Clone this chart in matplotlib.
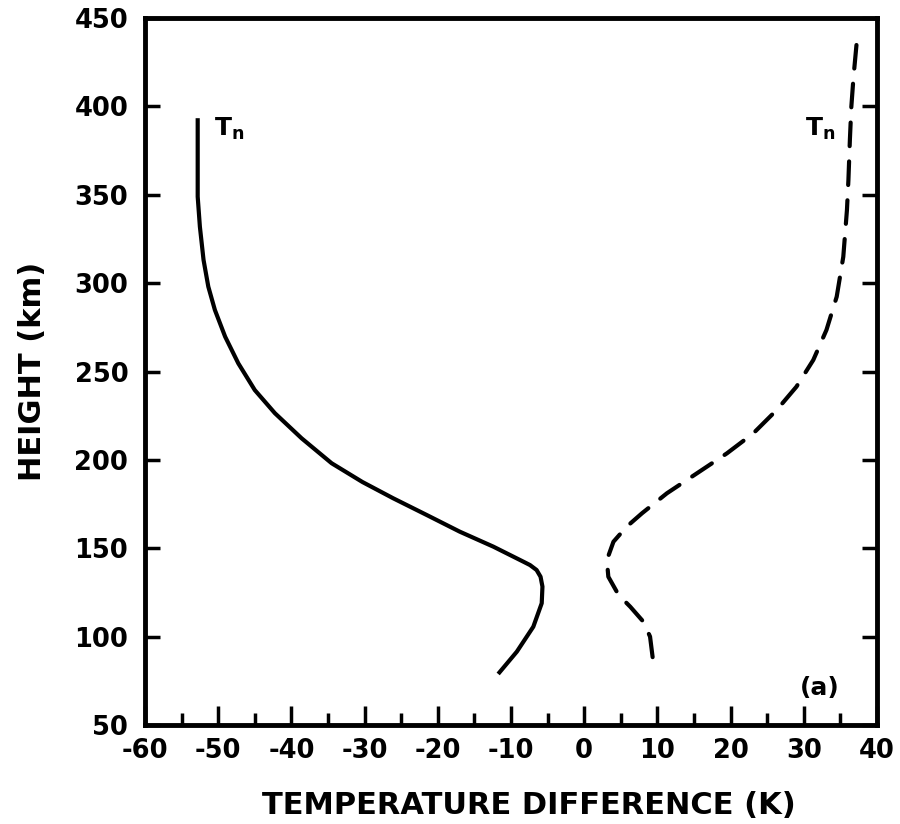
import matplotlib
matplotlib.use("Agg")
import matplotlib.pyplot as plt

plt.rcParams['font.family'] = ['DejaVu Sans']
plt.rcParams['font.weight'] = 'bold'
plt.rcParams['axes.unicode_minus'] = False
plt.rcParams['lines.scale_dashes'] = False

# Solid curve (left, T_n)
solid_height = [393.3, 370, 348.9, 331.9, 313.1, 298.0, 284.8, 269.7, 254.6, 239.5, 226.4,
                212.2, 198.1, 187.5, 178.3, 168.8, 159.4, 150.9, 142.4, 140.5, 137.7, 133.9,
                128.3, 118.9, 105.6, 91.5, 78.9]
solid_temp = [-52.8, -52.8, -52.8, -52.5, -52.0, -51.35, -50.45, -49.05, -47.25, -45.0, -42.25,
              -38.6, -34.5, -30.3, -26.1, -21.5, -17.0, -12.4, -8.3, -7.4, -6.5, -5.96,
              -5.7, -5.8, -6.95, -9.2, -11.75]

# Dashed curve (right, T_n)
dashed_height = [434.7, 416.8, 399.8, 381.0, 358.3, 341.4, 314.9, 292.3, 273.5, 256.5, 241.4,
                 228.2, 215.0, 203.7, 192.4, 181.1, 169.8, 162.2, 153.7, 143.3, 133.9,
                 123.6, 116.9, 108.4, 100.0, 86.8]
dashed_temp = [37.2, 36.8, 36.5, 36.3, 36.1, 35.9, 35.4, 34.5, 33.1, 31.3, 29.0,
               26.3, 23.1, 19.5, 15.4, 11.3, 7.9, 5.8, 4.0, 3.1, 3.3,
               4.7, 6.3, 8.1, 9.0, 9.4]

x_ticks = [-60, -50, -40, -30, -20, -10, 0, 10, 20, 30, 40]
x_tick_labels = ['-60', '-50', '-40', '-30', '-20', '-10', '0', '10', '20', '30', '40']
x_minor_ticks = [-55, -45, -35, -25, -15, -5, 5, 15, 25, 35]
y_ticks = [50, 100, 150, 200, 250, 300, 350, 400, 450]

fig = plt.figure(figsize=(9, 8.24), dpi=100)
ax = fig.add_axes([0.1611, 0.1201, 0.8133, 0.8581])

ax.plot(solid_temp, solid_height, color='black', lw=3.0, solid_capstyle='butt',
        solid_joinstyle='round')
ax.plot(dashed_temp, dashed_height, color='black', lw=3.0, dashes=(17, 11),
        dash_capstyle='round', dash_joinstyle='round')

ax.set_xlim(-60, 40)
ax.set_ylim(50, 450)

ax.set_xticks(x_ticks)
ax.set_xticklabels(x_tick_labels)
ax.set_xticks(x_minor_ticks, minor=True)
ax.set_yticks(y_ticks)

ax.tick_params(axis='x', which='major', direction='in', length=14, width=2.5,
               labelsize=18.5, pad=9, top=False)
ax.tick_params(axis='x', which='minor', direction='in', length=9, width=2.5, top=False)
ax.tick_params(axis='y', which='major', direction='in', length=11, width=2.5,
               labelsize=18.5, pad=12, right=True)

for lab in ax.get_xticklabels() + ax.get_yticklabels():
    lab.set_fontweight('bold')

for s in ax.spines.values():
    s.set_linewidth(3.5)

ax.set_xlabel('TEMPERATURE DIFFERENCE (K)', fontsize=22, fontweight='bold')
ax.xaxis.set_label_coords(0.525, -0.093)
ax.set_ylabel('HEIGHT (km)', fontsize=22, fontweight='bold', labelpad=20)

ax.text(-50.6, 387, r'T$_\mathregular{n}$', fontsize=18, fontweight='bold', ha='left', va='center')
ax.text(30.2, 387, r'T$_\mathregular{n}$', fontsize=18, fontweight='bold', ha='left', va='center')
ax.text(32.2, 71, '(a)', fontsize=18, fontweight='bold', ha='center', va='center')

fig.savefig('out.png', dpi=100)
